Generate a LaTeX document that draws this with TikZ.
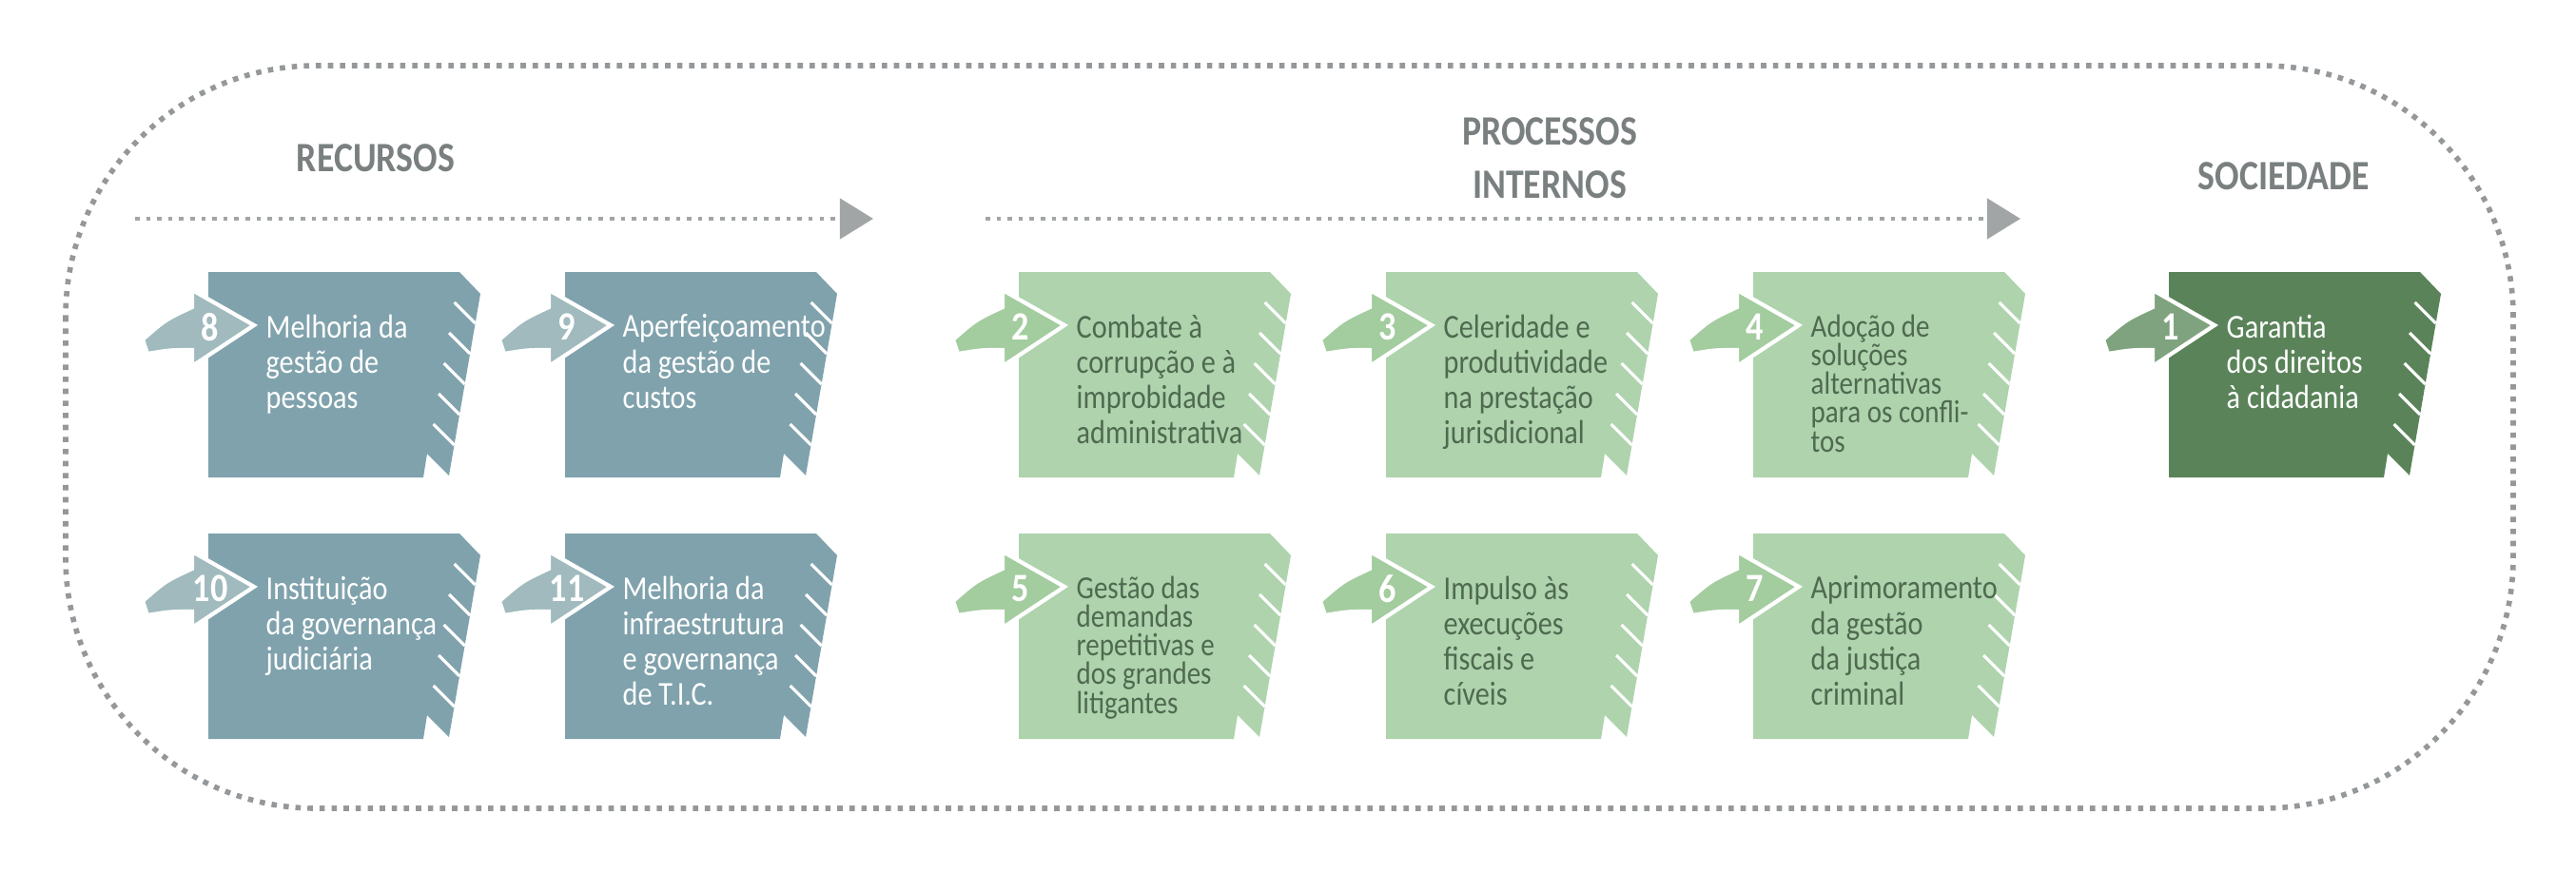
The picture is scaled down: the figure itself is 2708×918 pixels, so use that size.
\documentclass[tikz,border=0pt]{standalone}
\usepackage{fontspec}
\setmainfont{Carlito}
\newfontfamily\condfont[FakeStretch=0.86]{Carlito}
\usetikzlibrary{arrows.meta}

\definecolor{recfill}{HTML}{80A2AC}
\definecolor{recarrow}{HTML}{A0BABE}
\definecolor{procfill}{HTML}{AED3AD}
\definecolor{procarrow}{HTML}{A3CC9F}
\definecolor{socfill}{HTML}{5A8359}
\definecolor{socarrow}{HTML}{7FA37E}
\definecolor{proctext}{HTML}{4F6A4F}
\definecolor{headgray}{HTML}{7A7F80}

\tikzset{
  cardtext/.style={anchor=north west, align=left, font=\condfont\fontsize{10}{10.6}\selectfont, inner sep=0pt},
  tighttext/.style={font=\condfont\fontsize{9.6}{8.6}\selectfont},
  cardnum/.style={font=\condfont\bfseries\fontsize{12}{14}\selectfont, white},
  heading/.style={font=\condfont\bfseries\fontsize{12.5}{16}\selectfont, headgray, align=center},
  flowline/.style={headgray!70, line width=1.3pt, dotted, -{Triangle[length=10pt,width=12pt]}}
}

% card: name, x, y, fill, arrow fill, text colour, number, text
\newcommand{\objcard}[9][]{
  \begin{scope}[shift={(#3,#4)}]
    \fill[#5] (0,0) -- (264,0) -- (286,23) -- (253,214) -- (230,191) -- (226,216) -- (0,216) -- cycle;
    \foreach \ye in {54,86,118,150,182}
      \draw[white, line width=0.9pt] ({286-33*(\ye-23)/191-22},{\ye-22}) -- ({286-33*(\ye-23)/191},\ye);
    \fill[#6, draw=white, line width=1.2pt] (-69,71) .. controls (-45,50) .. (-17,37) -- (-17,19) -- (48,56) -- (-17,99) -- (-17,82) .. controls (-40,82) .. (-64,86) -- cycle;
    \node[cardnum] (#2n) at (2,58) {#8};
    \node[cardtext, text=#7, #1] (#2) at (60,44) {#9};
  \end{scope}
}

\begin{document}
\begin{tikzpicture}[x=0.01cm, y=-0.01cm]
  \useasboundingbox (0,0) rectangle (2708,918);

  % outer frame
  \draw[headgray!80, line width=1.6pt, dotted, rounded corners=75] (69,69) rectangle (2642,850);

  % headings
  \node[heading] (rec) at (395,166) {RECURSOS};
  \node[heading] (proc) at (1629,166) {PROCESSOS\\INTERNOS};
  \node[heading] (soc) at (2401,185) {SOCIEDADE};

  \coordinate (r0) at (142,230);
  \coordinate (r1) at (918,230);
  \coordinate (p0) at (1036,230);
  \coordinate (p1) at (2124,230);
  \draw[flowline] (r0) -- (r1);
  \draw[flowline] (p0) -- (p1);

  % recursos
  \objcard{c8}{219}{286}{recfill}{recarrow}{white}{8}{Melhoria da\\gestão de\\pessoas}
  \objcard{c9}{594}{286}{recfill}{recarrow}{white}{9}{Aperfeiçoamento\\da gestão de\\custos}
  \objcard{c10}{219}{561}{recfill}{recarrow}{white}{10}{Instituição\\da governança\\judiciária}
  \objcard{c11}{594}{561}{recfill}{recarrow}{white}{11}{Melhoria da\\infraestrutura\\e governança\\de T.I.C.}

  % processos internos
  \objcard{c2}{1071}{286}{procfill}{procarrow}{proctext}{2}{Combate à\\corrupção e à\\improbidade\\administrativa}
  \objcard{c3}{1457}{286}{procfill}{procarrow}{proctext}{3}{Celeridade e\\produtividade\\na prestação\\jurisdicional}
  \objcard[tighttext]{c4}{1843}{286}{procfill}{procarrow}{proctext}{4}{Adoção de\\soluções\\alternativas\\para os confli-\\tos}
  \objcard[tighttext]{c5}{1071}{561}{procfill}{procarrow}{proctext}{5}{Gestão das\\demandas\\repetitivas e\\dos grandes\\litigantes}
  \objcard{c6}{1457}{561}{procfill}{procarrow}{proctext}{6}{Impulso às\\execuções\\fiscais e\\cíveis}
  \objcard{c7}{1843}{561}{procfill}{procarrow}{proctext}{7}{Aprimoramento\\da gestão\\da justiça\\criminal}

  % sociedade
  \objcard{c1}{2280}{286}{socfill}{socarrow}{white}{1}{Garantia\\dos direitos\\à cidadania}
\end{tikzpicture}
\end{document}
